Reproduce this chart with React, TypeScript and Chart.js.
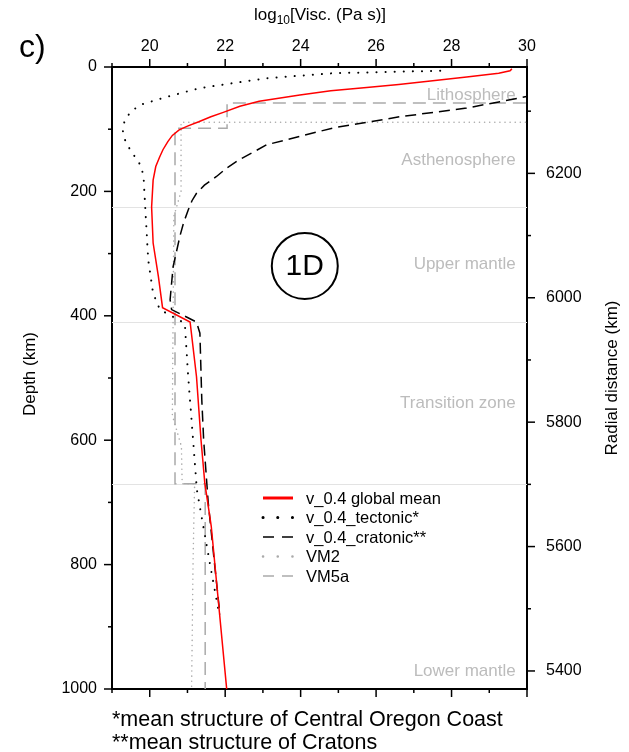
import { useEffect, useRef } from 'react';
import { Chart, registerables } from 'chart.js';
Chart.register(...registerables);

const FONT = '"Liberation Sans", Arial, Helvetica, sans-serif';
const earthRadius = 6371;

const viscMin = 19;
const viscMax = 30;
const depthMax = 1000;
const radiusTicks = [5400, 5500, 5600, 5700, 5800, 5900, 6000, 6100, 6200, 6300];

// v_0.4 global mean
const globalMeanDepth = [3, 6, 10, 16, 22, 28, 33, 38, 45, 55, 63, 73, 80, 88, 95, 101, 110, 120, 133, 145, 160, 182, 225, 283, 337, 387, 410, 498, 600, 669, 738, 1000];
const globalMeanVisc = [29.6, 29.55, 29.25, 28.4, 27.5, 26.6, 25.75, 24.8, 23.98, 22.9, 22.39, 21.95, 21.62, 21.3, 21.0, 20.78, 20.6, 20.48, 20.35, 20.26, 20.16, 20.09, 20.05, 20.09, 20.23, 20.34, 21.07, 21.24, 21.36, 21.46, 21.63, 22.04];

// v_0.4_tectonic*
const tectonicDepth = [6, 10, 18, 26, 34, 48, 61, 72, 85, 101, 118, 133, 148, 160, 180, 214, 310, 364, 390, 412, 498, 600, 680, 800, 880];
const tectonicVisc = [27.7, 24.86, 23.1, 22.2, 21.33, 20.45, 19.74, 19.5, 19.34, 19.28, 19.35, 19.48, 19.65, 19.78, 19.84, 19.87, 19.96, 20.09, 20.27, 20.93, 21.02, 21.15, 21.25, 21.6, 21.84];

// v_0.4_cratonic**
const cratonicDepth = [30, 48, 66, 80, 98, 125, 150, 162, 176, 190, 203, 215, 230, 250, 272, 321, 374, 390, 410, 428, 535, 600, 700, 800, 880];
const cratonicVisc = [31.5, 29.95, 28.4, 26.63, 24.86, 23.1, 22.35, 22.05, 21.77, 21.45, 21.24, 21.12, 21.02, 20.9, 20.8, 20.62, 20.54, 20.58, 21.24, 21.33, 21.38, 21.43, 21.55, 21.72, 21.86];

// VM2
const vm2Depth = [89, 89, 200, 240, 560, 610, 670, 670, 790, 1000];
const vm2Visc = [30.5, 20.83, 20.83, 20.64, 20.6, 20.84, 20.86, 21.19, 21.15, 21.11];

// VM5a
const vm5aDepth = [58, 58, 98.5, 98.5, 670, 670, 1000];
const vm5aVisc = [30.5, 22.05, 22.05, 20.67, 20.67, 21.47, 21.47];

const seriesLabels = ['v_0.4 global mean', 'v_0.4_tectonic*', 'v_0.4_cratonic**', 'VM2', 'VM5a'];
const seriesDepths = [globalMeanDepth, tectonicDepth, cratonicDepth, vm2Depth, vm5aDepth];
const seriesVisc = [globalMeanVisc, tectonicVisc, cratonicVisc, vm2Visc, vm5aVisc];

const boundaryDepths = [225, 410, 670];
const layerNames = ['Lithosphere', 'Asthenosphere', 'Upper mantle', 'Transition zone', 'Lower mantle'];
const layerDepths = [45, 150, 318, 540, 972];
const layerLabelVisc = 29.7;

const footnotes = ['*mean structure of Central Oregon Coast', '**mean structure of Cratons'];

const styles = [
  { color: '#ff0000', width: 1.5, dash: [] as number[], cap: 'butt', legendDash: [] as number[], legendWidth: 3, legendCap: 'butt' },
  { color: '#000000', width: 2, dash: [0.1, 9], cap: 'round', legendDash: [0.1, 14.6], legendWidth: 3, legendCap: 'round' },
  { color: '#000000', width: 1.5, dash: [11, 6], cap: 'butt', legendDash: [11, 8], legendWidth: 1.5, legendCap: 'butt' },
  { color: '#aaaaaa', width: 1.5, dash: [0.1, 5], cap: 'round', legendDash: [0.1, 14.6], legendWidth: 2.5, legendCap: 'round' },
  { color: '#aaaaaa', width: 1.5, dash: [13, 7], cap: 'butt', legendDash: [11, 8], legendWidth: 1.5, legendCap: 'butt' },
];

const overlay = {
  id: 'overlay',
  beforeDatasetsDraw(chart: any) {
    const { ctx, chartArea: a, scales } = chart;
    const ys = scales.y;
    const xs = scales.x;
    ctx.save();
    ctx.strokeStyle = '#e3e3e3';
    ctx.lineWidth = 1;
    boundaryDepths.forEach((d) => {
      const py = Math.round(ys.getPixelForValue(d)) + 0.5;
      ctx.beginPath();
      ctx.moveTo(a.left, py);
      ctx.lineTo(a.right, py);
      ctx.stroke();
    });
    ctx.fillStyle = '#bcbcbc';
    ctx.font = `17px ${FONT}`;
    ctx.textAlign = 'right';
    ctx.textBaseline = 'middle';
    layerNames.forEach((n, i) => {
      ctx.fillText(n, xs.getPixelForValue(layerLabelVisc), ys.getPixelForValue(layerDepths[i]));
    });
    ctx.restore();
  },
  afterDraw(chart: any) {
    const { ctx, chartArea: a, scales } = chart;
    ctx.save();
    // ticks
    ctx.strokeStyle = '#000';
    ctx.lineWidth = 1.5;
    const drawTicks = (scale: any, side: string, isMajor: (v: number) => boolean) => {
      scale.ticks.forEach((t: any) => {
        const p = scale.getPixelForValue(t.value);
        const len = isMajor(t.value) ? 8 : 4;
        ctx.beginPath();
        if (side === 'top') { ctx.moveTo(p, a.top); ctx.lineTo(p, a.top - len); }
        if (side === 'bottom') { ctx.moveTo(p, a.bottom); ctx.lineTo(p, a.bottom + len); }
        if (side === 'left') { ctx.moveTo(a.left, p); ctx.lineTo(a.left - len, p); }
        if (side === 'right') { ctx.moveTo(a.right, p); ctx.lineTo(a.right + len, p); }
        ctx.stroke();
      });
    };
    drawTicks(scales.x, 'top', (v) => Math.round(v) % 2 === 0);
    drawTicks(scales.x2, 'bottom', (v) => Math.round(v) % 2 === 0);
    drawTicks(scales.y, 'left', (v) => Math.round(v) % 200 === 0);
    drawTicks(scales.y2, 'right', (v) => Math.round(v) % 200 === 0);

    // 1D circle
    const cx = scales.x.getPixelForValue(24.11);
    const cy = scales.y.getPixelForValue(320);
    ctx.lineWidth = 2;
    ctx.beginPath();
    ctx.arc(cx, cy, 33, 0, Math.PI * 2);
    ctx.stroke();
    ctx.fillStyle = '#000';
    ctx.font = `30px ${FONT}`;
    ctx.textAlign = 'center';
    ctx.textBaseline = 'middle';
    ctx.fillText('1D', cx, cy + 1);

    // legend
    const lx0 = 263, lx1 = 293, tx = 306, ly0 = 498, lstep = 19.5;
    chart.data.datasets.forEach((ds: any, i: number) => {
      const st = styles[i];
      const y = ly0 + i * lstep;
      ctx.save();
      ctx.strokeStyle = st.color;
      ctx.lineWidth = st.legendWidth;
      ctx.lineCap = st.legendCap;
      ctx.setLineDash(st.legendDash);
      ctx.beginPath();
      ctx.moveTo(lx0, y);
      ctx.lineTo(lx1, y);
      ctx.stroke();
      ctx.restore();
      ctx.fillStyle = '#000';
      ctx.font = `16.5px ${FONT}`;
      ctx.textAlign = 'left';
      ctx.textBaseline = 'middle';
      ctx.fillText(ds.label, tx, y + 1);
    });

    // panel label
    ctx.textAlign = 'left';
    ctx.textBaseline = 'alphabetic';
    ctx.font = `32px ${FONT}`;
    ctx.fillText('c)', 19, 57);

    // top title with subscript
    const t1 = 'log', t2 = '10', t3 = '[Visc. (Pa s)]';
    ctx.font = `17px ${FONT}`;
    const w1 = ctx.measureText(t1).width;
    const w3 = ctx.measureText(t3).width;
    ctx.font = `12px ${FONT}`;
    const w2 = ctx.measureText(t2).width;
    const total = w1 + w2 + w3;
    let sx = 320 - total / 2;
    ctx.font = `17px ${FONT}`;
    ctx.fillText(t1, sx, 20);
    sx += w1;
    ctx.font = `12px ${FONT}`;
    ctx.fillText(t2, sx, 24);
    sx += w2;
    ctx.font = `17px ${FONT}`;
    ctx.fillText(t3, sx, 20);

    // axis titles
    const midY = (a.top + a.bottom) / 2;
    ctx.textAlign = 'center';
    ctx.textBaseline = 'middle';
    ctx.save();
    ctx.translate(30, midY - 4);
    ctx.rotate(-Math.PI / 2);
    ctx.fillText('Depth (km)', 0, 0);
    ctx.restore();
    ctx.save();
    ctx.translate(612, midY);
    ctx.rotate(-Math.PI / 2);
    ctx.fillText('Radial distance (km)', 0, 0);
    ctx.restore();

    // footnotes
    ctx.textAlign = 'left';
    ctx.textBaseline = 'alphabetic';
    ctx.font = `21.5px ${FONT}`;
    footnotes.forEach((f, i) => ctx.fillText(f, a.left, 726 + i * 23));
    ctx.restore();
  },
};

export default function App() {
  const ref = useRef<HTMLCanvasElement | null>(null);
  useEffect(() => {
    if (!ref.current) return;
    Chart.defaults.font.family = FONT;
    const datasets = seriesLabels.map((label, i) => ({
      label,
      data: seriesDepths[i].map((d, j) => ({ x: seriesVisc[i][j], y: d })),
      showLine: true,
      borderColor: styles[i].color,
      backgroundColor: styles[i].color,
      borderWidth: styles[i].width,
      borderDash: styles[i].dash,
      borderCapStyle: styles[i].cap,
      pointRadius: 0,
      pointHoverRadius: 0,
      tension: 0,
      xAxisID: 'x',
      yAxisID: 'y',
    }));
    const border = { display: true, color: '#000', width: 2 };
    const tickFont = { size: 16, family: FONT };
    const chart = new Chart(ref.current, {
      type: 'scatter',
      data: { datasets },
      plugins: [overlay],
      options: {
        animation: false,
        responsive: false,
        events: [],
        layout: { padding: 0 },
        plugins: { legend: { display: false }, tooltip: { enabled: false } },
        scales: {
          x: {
            type: 'linear', position: 'top', min: viscMin, max: viscMax,
            grid: { display: false, drawTicks: false }, border,
            ticks: { stepSize: 1, autoSkip: false, maxRotation: 0, color: '#000', font: tickFont, padding: 11,
              callback: (v: any) => (Math.round(v) % 2 === 0 ? String(v) : '') },
            afterFit: (s: any) => { s.height = 67; },
          },
          x2: {
            type: 'linear', position: 'bottom', min: viscMin, max: viscMax,
            grid: { display: false, drawTicks: false }, border,
            ticks: { stepSize: 1, display: false },
            afterFit: (s: any) => { s.height = 63; },
          },
          y: {
            type: 'linear', position: 'left', min: 0, max: depthMax, reverse: true,
            grid: { display: false, drawTicks: false }, border,
            ticks: { stepSize: 100, autoSkip: false, color: '#000', font: tickFont, padding: 15,
              callback: (v: any) => (Math.round(v) % 200 === 0 ? String(v) : '') },
            afterFit: (s: any) => { s.width = 112; },
          },
          y2: {
            type: 'linear', position: 'right', min: earthRadius - depthMax, max: earthRadius,
            grid: { display: false, drawTicks: false }, border,
            afterBuildTicks: (s: any) => { s.ticks = radiusTicks.map((v) => ({ value: v })); },
            ticks: { autoSkip: false, color: '#000', font: tickFont, padding: 19,
              callback: (v: any) => (Math.round(v) % 200 === 0 ? String(v) : '') },
            afterFit: (s: any) => { s.width = 102; },
          },
        },
      } as any,
    });
    return () => chart.destroy();
  }, []);
  return (
    <div style={{ position: 'absolute', left: 0, top: 0, width: 629, height: 752, background: '#fff' }}>
      <canvas ref={ref} width={629} height={752} style={{ display: 'block' }} />
    </div>
  );
}
